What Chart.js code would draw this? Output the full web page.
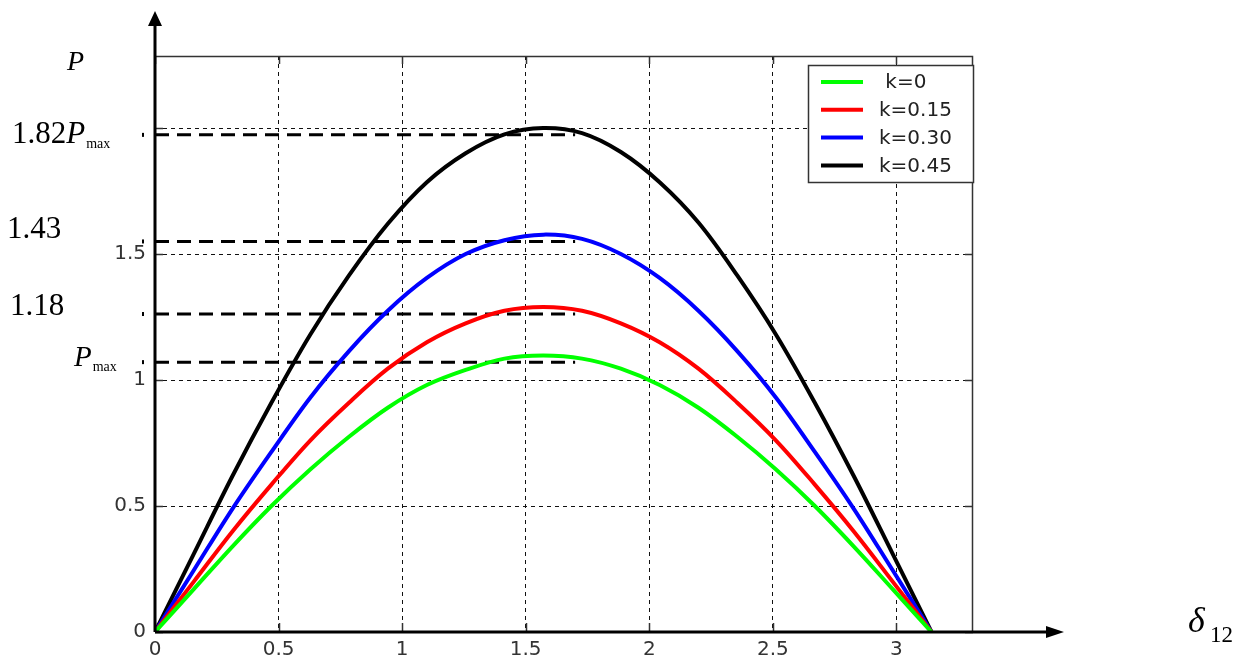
<!DOCTYPE html>
<html>
<head>
<meta charset="utf-8">
<title>P(δ12) для разных k</title>
<script src="https://cdn.jsdelivr.net/npm/chart.js@4.4.1/dist/chart.umd.min.js"></script>
<style>
    html, body { margin: 0; padding: 0; background: #fff; }
    #chart { display: block; }
</style>
</head>
<body>
<canvas id="chart" width="1248" height="659"></canvas>
<script>
// Угол δ12 (рад) - точки, по которым считаны кривые
const deltaValues = [0, 0.157, 0.314, 0.471, 0.628, 0.785, 0.942, 1.100, 1.257, 1.414, 1.571,
                     1.728, 1.885, 2.042, 2.199, 2.356, 2.513, 2.670, 2.827, 2.985, 3.142];

// Мощность P для каждого k
const powerK0   = [0, 0.17, 0.34, 0.50, 0.645, 0.775, 0.89, 0.98, 1.04, 1.085, 1.097,
                   1.085, 1.045, 0.98, 0.89, 0.775, 0.645, 0.50, 0.34, 0.17, 0];
const powerK015 = [0, 0.20, 0.40, 0.585, 0.76, 0.91, 1.045, 1.15, 1.225, 1.275, 1.29,
                   1.275, 1.225, 1.15, 1.045, 0.91, 0.76, 0.585, 0.40, 0.20, 0];
const powerK030 = [0, 0.245, 0.49, 0.715, 0.93, 1.115, 1.275, 1.405, 1.50, 1.555, 1.577,
                   1.56, 1.50, 1.405, 1.275, 1.115, 0.93, 0.715, 0.49, 0.245, 0];
const powerK045 = [0, 0.31, 0.62, 0.91, 1.18, 1.415, 1.62, 1.785, 1.90, 1.975, 2.0,
                   1.98, 1.905, 1.785, 1.625, 1.415, 1.18, 0.91, 0.62, 0.31, 0];

const seriesLabels = [' k=0', 'k=0.15', 'k=0.30', 'k=0.45'];
const seriesColors = ['#00ff00', '#ff0000', '#0000ff', '#000000'];

// Деления осей
const xTickValues = [0, 0.5, 1, 1.5, 2, 2.5, 3];
const xTickLabels = ['0', '0.5', '1', '1.5', '2', '2.5', '3'];
const yTickValues = [0, 0.5, 1, 1.5, 2];
const yTickLabels = ['0', '0.5', '1', '1.5', ''];

// Уровни пунктирных линий (1.82Pmax, 1.43, 1.18, Pmax) и их протяжённость по δ
const refLevels = [1.973, 1.55, 1.262, 1.071];
const refSpan = [0, 1.70];

const serif = '"Liberation Serif", "DejaVu Serif", serif';
const sans = '"DejaVu Sans", sans-serif';

// P с индексом max
function drawPmax(ctx, x, y, size) {
    ctx.font = 'italic ' + size + 'px ' + serif;
    ctx.fillText('P', x, y);
    const w = ctx.measureText('P').width;
    ctx.font = '14px ' + serif;
    ctx.fillText('max', x + w + 1, y + 5);
}

// Рамка, стрелки осей, легенда и подписи слева
const figurePlugin = {
    id: 'figure',
    afterDraw(chart) {
        const ctx = chart.ctx;
        const a = chart.chartArea;
        const xs = chart.scales.x;
        const ys = chart.scales.y;
        ctx.save();

        // рамка сверху и справа
        ctx.strokeStyle = '#333';
        ctx.lineWidth = 1.5;
        ctx.beginPath();
        ctx.moveTo(a.left, a.top + 0.5);
        ctx.lineTo(a.right - 0.5, a.top + 0.5);
        ctx.lineTo(a.right - 0.5, a.bottom);
        ctx.stroke();

        // внутренние засечки
        ctx.beginPath();
        xTickValues.forEach(v => {
            const px = Math.round(xs.getPixelForValue(v)) + 0.5;
            ctx.moveTo(px, a.top); ctx.lineTo(px, a.top + 8);
            ctx.moveTo(px, a.bottom); ctx.lineTo(px, a.bottom - 9);
        });
        yTickValues.forEach(v => {
            const py = Math.round(ys.getPixelForValue(v)) + 0.5;
            ctx.moveTo(a.right, py); ctx.lineTo(a.right - 8, py);
            ctx.moveTo(a.left, py); ctx.lineTo(a.left + 8, py);
        });
        ctx.stroke();

        // метки у начала пунктиров
        ctx.fillStyle = '#000';
        refLevels.forEach(v => {
            const py = ys.getPixelForValue(v);
            ctx.fillRect(142, py - 2, 2, 4);
        });

        // оси со стрелками
        ctx.strokeStyle = '#000';
        ctx.lineWidth = 3;
        ctx.beginPath();
        ctx.moveTo(a.left, a.bottom);
        ctx.lineTo(a.left, 24);
        ctx.moveTo(a.left, a.bottom);
        ctx.lineTo(1048, a.bottom);
        ctx.stroke();
        ctx.beginPath();
        ctx.moveTo(a.left, 11);
        ctx.lineTo(a.left - 7, 26);
        ctx.lineTo(a.left + 7, 26);
        ctx.closePath();
        ctx.moveTo(1064, a.bottom);
        ctx.lineTo(1046, a.bottom - 6);
        ctx.lineTo(1046, a.bottom + 6);
        ctx.closePath();
        ctx.fill();

        // легенда
        const box = { x: 808.5, y: 65.5, w: 165, h: 117 };
        ctx.fillStyle = '#fff';
        ctx.fillRect(box.x, box.y, box.w, box.h);
        ctx.strokeStyle = '#333';
        ctx.lineWidth = 1.5;
        ctx.strokeRect(box.x, box.y, box.w, box.h);
        ctx.font = '20px ' + sans;
        ctx.textBaseline = 'middle';
        ctx.textAlign = 'left';
        seriesLabels.forEach((label, i) => {
            const y = 82 + i * 27.8;
            ctx.strokeStyle = seriesColors[i];
            ctx.lineWidth = 4;
            ctx.beginPath();
            ctx.moveTo(821, y);
            ctx.lineTo(863, y);
            ctx.stroke();
            ctx.fillStyle = '#222';
            ctx.fillText(label, 879, y + 1);
        });

        // подписи слева и у оси δ
        ctx.fillStyle = '#000';
        ctx.textBaseline = 'alphabetic';
        ctx.font = 'italic 28px ' + serif;
        ctx.fillText('P', 67, 70);

        ctx.font = '31px ' + serif;
        ctx.fillText('1.82', 12, 143);
        const w182 = ctx.measureText('1.82').width;
        drawPmax(ctx, 12 + w182, 143, 31);

        ctx.font = '31px ' + serif;
        ctx.fillText('1.43', 7, 238);
        ctx.fillText('1.18', 10, 315);

        drawPmax(ctx, 74, 366, 29);

        ctx.font = 'italic 36px ' + serif;
        ctx.fillText('δ', 1188, 632);
        ctx.font = '23px ' + serif;
        ctx.fillText('12', 1210, 642);

        ctx.restore();
    }
};

const curves = [powerK0, powerK015, powerK030, powerK045].map((values, i) => ({
    label: seriesLabels[i].trim(),
    data: deltaValues.map((d, j) => ({ x: d, y: values[j] })),
    borderColor: seriesColors[i],
    borderWidth: 4,
    tension: 0.35,
    order: 0
}));

const refLines = refLevels.map(level => ({
    label: 'ref ' + level,
    data: refSpan.map(d => ({ x: d, y: level })),
    borderColor: '#000',
    borderWidth: 3,
    borderDash: [14, 8],
    tension: 0,
    order: 1
}));

new Chart(document.getElementById('chart'), {
    type: 'line',
    data: { datasets: [...refLines, ...curves] },
    options: {
        responsive: false,
        animation: false,
        devicePixelRatio: 1,
        layout: { padding: { left: 0, top: 56, right: 275, bottom: 0 } },
        elements: {
            point: { radius: 0 },
            line: { fill: false }
        },
        plugins: {
            legend: { display: false },
            tooltip: { enabled: false }
        },
        scales: {
            x: {
                type: 'linear',
                min: 0,
                max: 3.31,
                afterBuildTicks(scale) { scale.ticks = xTickValues.map(v => ({ value: v })); },
                afterFit(scale) { scale.height = 27; },
                border: { display: false, dash: [4, 4] },
                grid: { color: '#111', lineWidth: 1, drawTicks: false },
                ticks: {
                    padding: 6,
                    color: '#333',
                    font: { family: sans, size: 20 },
                    callback: (value, index) => xTickLabels[index]
                }
            },
            y: {
                type: 'linear',
                min: 0,
                max: 2.286,
                afterBuildTicks(scale) { scale.ticks = yTickValues.map(v => ({ value: v })); },
                afterFit(scale) { scale.width = 155; },
                border: { display: false, dash: [4, 4] },
                grid: { color: '#111', lineWidth: 1, drawTicks: false },
                ticks: {
                    padding: 9,
                    color: '#333',
                    font: { family: sans, size: 20 },
                    callback: (value, index) => yTickLabels[index]
                }
            }
        }
    },
    plugins: [figurePlugin]
});
</script>
</body>
</html>
